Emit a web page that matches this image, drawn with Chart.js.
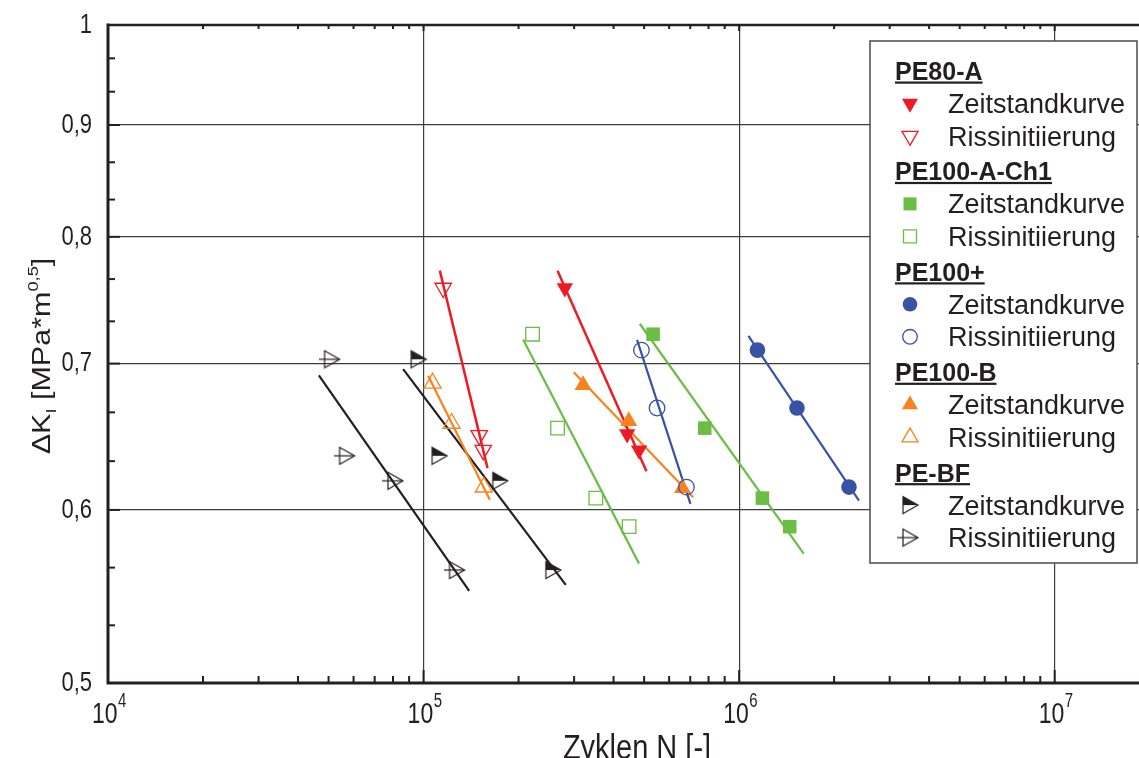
<!DOCTYPE html>
<html><head><meta charset="utf-8">
<script src="https://cdn.jsdelivr.net/npm/chart.js@4.4.1/dist/chart.umd.min.js"></script>
<style>html,body{margin:0;padding:0;background:#fff;}#wrap{width:1139px;height:758px;position:relative;}</style>
</head><body><div id="wrap"><canvas id="c" width="1139" height="758"></canvas></div>
<script>
// ---------------- data ----------------
const xDecadeExponents = [4, 5, 6, 7];
const yTickValues = [0.5, 0.6, 0.7, 0.8, 0.9, 1.0];
const yTickLabels = ['0,5', '0,6', '0,7', '0,8', '0,9', '1'];
const xAxisTitle = 'Zyklen N [-]';
const legendGroups = ['PE80-A', 'PE100-A-Ch1', 'PE100+', 'PE100-B', 'PE-BF'];
const legendItems = ['Zeitstandkurve', 'Rissinitiierung'];

// PE80-A
const pe80ZeitN = [280300, 441600, 481800];
const pe80ZeitK = [0.758, 0.650, 0.639];
const pe80RissN = [115400, 150100, 154500];
const pe80RissK = [0.758, 0.649, 0.639];
const pe80ZeitFitN = [265800, 508600];
const pe80ZeitFitK = [0.772, 0.625];
const pe80RissFitN = [112600, 159500];
const pe80RissFitK = [0.772, 0.627];
// PE100-A-Ch1
const ch1ZeitN = [533800, 778000, 1185000, 1446000];
const ch1ZeitK = [0.722, 0.654, 0.6075, 0.5895];
const ch1RissN = [221500, 265800, 351400, 448100];
const ch1RissK = [0.722, 0.654, 0.6075, 0.5895];
const ch1ZeitFitN = [484300, 1602000];
const ch1ZeitFitK = [0.730, 0.573];
const ch1RissFitN = [206800, 481800];
const ch1RissFitK = [0.718, 0.567];
// PE100+
const plusZeitN = [1143000, 1525000, 2229000];
const plusZeitK = [0.710, 0.668, 0.6146];
const plusRissN = [490300, 549500, 680800];
const plusRissK = [0.710, 0.668, 0.6146];
const plusZeitFitN = [1070000, 2398000];
const plusZeitFitK = [0.7207, 0.6059];
const plusRissFitN = [474900, 701000];
const plusRissFitK = [0.7177, 0.6038];
// PE100-B
const pbZeitN = [320300, 447000, 661300];
const pbZeitK = [0.6844, 0.6589, 0.6139];
const pbRissN = [106800, 122700, 155200];
const pbRissK = [0.6857, 0.6573, 0.6146];
const pbZeitFitN = [299300, 714500];
const pbZeitFitK = [0.6937, 0.6081];
const pbRissFitN = [103400, 162200];
const pbRissFitK = [0.6911, 0.6064];
// PE-BF
const bfZeitN = [96130, 112000, 174400, 256800];
const bfZeitK = [0.7032, 0.6352, 0.6187, 0.5632];
const bfRissN = [51110, 57030, 81140, 127200];
const bfRissK = [0.7032, 0.6352, 0.6187, 0.5632];
const bfZeitFitN = [86160, 282300];
const bfZeitFitK = [0.6959, 0.5544];
const bfRissFitN = [46590, 139500];
const bfRissFitK = [0.6913, 0.5509];

// ---------------- styling ----------------
const RED = '#ed1c24', GREEN = '#6abd45', BLUE = '#3953a4', ORANGE = '#f7821e', BLACK = '#231f20';
const FONT = '"Liberation Sans", Arial, sans-serif';

function pts(xs, ys) { return xs.map((v, i) => ({ x: v, y: ys[i] })); }

function bfMarker(filled) {
  const c = document.createElement('canvas');
  c.width = 26; c.height = 22;
  const g = c.getContext('2d');
  const cx = 13, cy = 11, bx = cx - 7, tx = cx + 8, h = 8.5;
  g.strokeStyle = BLACK; g.fillStyle = BLACK; g.lineWidth = 1.2;
  if (filled) {
    g.beginPath(); g.moveTo(bx, cy - h); g.lineTo(tx, cy); g.lineTo(bx, cy); g.closePath(); g.fill();
  } else {
    g.beginPath(); g.moveTo(bx - 6, cy); g.lineTo(tx, cy); g.stroke();
  }
  g.beginPath(); g.moveTo(bx, cy - h); g.lineTo(tx, cy); g.lineTo(bx, cy + h); g.closePath(); g.stroke();
  return c;
}
const bfZeitImg = bfMarker(true);
const bfRissImg = bfMarker(false);

function pointSet(xs, ys, color, style, filled, radius, rotation) {
  return {
    type: 'scatter', data: pts(xs, ys), order: 1,
    pointStyle: style, pointRadius: radius, pointRotation: rotation || 0,
    pointBackgroundColor: filled ? color : 'rgba(0,0,0,0)',
    pointBorderColor: color, pointBorderWidth: filled ? 0 : 1.3,
    showLine: false
  };
}
function fitSet(xs, ys, color, w) {
  return {
    type: 'scatter', data: pts(xs, ys), order: 2, showLine: true,
    borderColor: color, borderWidth: w || 2.2, pointRadius: 0, fill: false
  };
}

const datasets = [
  pointSet(pe80ZeitN, pe80ZeitK, RED, 'triangle', true, 9.5, 180),
  pointSet(pe80RissN, pe80RissK, RED, 'triangle', false, 9.5, 180),
  pointSet(ch1ZeitN, ch1ZeitK, GREEN, 'rect', true, 9.6),
  pointSet(ch1RissN, ch1RissK, GREEN, 'rect', false, 9.6),
  pointSet(plusZeitN, plusZeitK, BLUE, 'circle', true, 7.8),
  pointSet(plusRissN, plusRissK, BLUE, 'circle', false, 7.8),
  pointSet(pbZeitN, pbZeitK, ORANGE, 'triangle', true, 9.8),
  pointSet(pbRissN, pbRissK, ORANGE, 'triangle', false, 9.8),
  pointSet(bfZeitN, bfZeitK, BLACK, bfZeitImg, true, 10),
  pointSet(bfRissN, bfRissK, BLACK, bfRissImg, false, 10),
  fitSet(pe80ZeitFitN, pe80ZeitFitK, RED, 2.5),
  fitSet(pe80RissFitN, pe80RissFitK, RED, 2.5),
  fitSet(ch1ZeitFitN, ch1ZeitFitK, GREEN),
  fitSet(ch1RissFitN, ch1RissFitK, GREEN),
  fitSet(plusZeitFitN, plusZeitFitK, BLUE),
  fitSet(plusRissFitN, plusRissFitK, BLUE),
  fitSet(pbZeitFitN, pbZeitFitK, ORANGE),
  fitSet(pbRissFitN, pbRissFitK, ORANGE),
  fitSet(bfZeitFitN, bfZeitFitK, BLACK),
  fitSet(bfRissFitN, bfRissFitK, BLACK)
];

const GRID = '#3c3c3c';

function drawMarker(ctx, kind, color, filled, x, y) {
  ctx.save();
  ctx.fillStyle = color; ctx.strokeStyle = color; ctx.lineWidth = 1.3;
  ctx.beginPath();
  if (kind === 'down' || kind === 'up') {
    const r = 9.3, s = kind === 'down' ? -1 : 1;
    ctx.moveTo(x, y - s * r);
    ctx.lineTo(x + r * 0.866, y + s * r / 2);
    ctx.lineTo(x - r * 0.866, y + s * r / 2);
    ctx.closePath();
  } else if (kind === 'rect') {
    const a = 6.5; ctx.rect(x - a, y - a, 2 * a, 2 * a);
  } else if (kind === 'circle') {
    ctx.arc(x, y, 7.3, 0, Math.PI * 2);
  } else if (kind === 'img') {
    const im = filled ? bfZeitImg : bfRissImg;
    ctx.drawImage(im, x - im.width / 2, y - im.height / 2);
    ctx.restore(); return;
  }
  if (filled) ctx.fill(); else ctx.stroke();
  ctx.restore();
}

const legendMarkers = [
  ['down', RED], ['rect', GREEN], ['circle', BLUE], ['up', ORANGE], ['img', BLACK]
];

// draw text stretched vertically (the reference figure is slightly stretched)
function stretchedText(ctx, txt, x, y, sy) {
  ctx.save(); ctx.translate(x, y); ctx.scale(1, sy); ctx.fillText(txt, 0, 0); ctx.restore();
}

const framePlugin = {
  id: 'framePlugin',
  afterDatasetsDraw(chart) {
    const { ctx, chartArea: a, scales: { x, y } } = chart;
    ctx.save();
    ctx.strokeStyle = BLACK;
    ctx.lineWidth = 2;
    xDecadeExponents.forEach(e => {
      for (let m = 1; m <= 9; m++) {
        const v = m * Math.pow(10, e);
        if (v > x.max) break;
        const px = x.getPixelForValue(v);
        const L = m === 1 ? 13 : 7;
        ctx.beginPath(); ctx.moveTo(px, a.bottom); ctx.lineTo(px, a.bottom - L); ctx.stroke();
        ctx.beginPath(); ctx.moveTo(px, a.top); ctx.lineTo(px, a.top + (m === 1 ? 6 : 4)); ctx.stroke();
      }
    });
    for (let i = 0; i < yTickValues.length; i++) {
      const py = y.getPixelForValue(yTickValues[i]);
      ctx.beginPath(); ctx.moveTo(a.left, py); ctx.lineTo(a.left + 12, py); ctx.stroke();
      if (i < yTickValues.length - 1) {
        const l0 = Math.log10(yTickValues[i]), l1 = Math.log10(yTickValues[i + 1]);
        for (let k = 1; k <= 2; k++) {
          const pm = y.getPixelForValue(Math.pow(10, l0 + (l1 - l0) * k / 3));
          ctx.beginPath(); ctx.moveTo(a.left, pm); ctx.lineTo(a.left + 7, pm); ctx.stroke();
        }
      }
    }
    ctx.lineWidth = 3;
    ctx.beginPath(); ctx.moveTo(a.left, a.top - 1.5); ctx.lineTo(a.left, a.bottom); ctx.lineTo(a.right, a.bottom); ctx.stroke();
    ctx.lineWidth = 2.6;
    ctx.beginPath(); ctx.moveTo(a.left, a.top); ctx.lineTo(a.right, a.top); ctx.stroke();

    ctx.fillStyle = BLACK;
    // y tick labels
    ctx.font = '22px ' + FONT; ctx.textAlign = 'right'; ctx.textBaseline = 'middle';
    yTickValues.forEach((v, i) => {
      stretchedText(ctx, yTickLabels[i], 92, y.getPixelForValue(v), 1.28);
    });
    // x tick labels 10^n
    ctx.textBaseline = 'alphabetic';
    xDecadeExponents.forEach(e => {
      const px = x.getPixelForValue(Math.pow(10, e));
      ctx.font = '23px ' + FONT;
      const w1 = ctx.measureText('10').width;
      ctx.font = '15px ' + FONT;
      const w2 = ctx.measureText(String(e)).width;
      const x0 = px - (w1 + w2) / 2 + 1;
      ctx.font = '23px ' + FONT; ctx.textAlign = 'left';
      stretchedText(ctx, '10', x0, 723, 1.3);
      ctx.font = '15px ' + FONT;
      stretchedText(ctx, String(e), x0 + w1 + 0.5, 707, 1.3);
    });
    // x title
    ctx.font = '29px ' + FONT; ctx.textAlign = 'center';
    stretchedText(ctx, xAxisTitle, 637, 759, 1.2);

    // y title
    ctx.save();
    ctx.translate(50, 356);
    ctx.rotate(-Math.PI / 2);
    ctx.scale(1.22, 1);
    const parts = [['ΔK', 25, 0], ['I', 15, 6], [' [MPa*m', 25, 0], ['0,5', 15, -12], [']', 25, 0]];
    let tot = 0;
    parts.forEach(p => { ctx.font = p[1] + 'px ' + FONT; tot += ctx.measureText(p[0]).width; });
    let cx = -tot / 2;
    ctx.textAlign = 'left';
    parts.forEach(p => { ctx.font = p[1] + 'px ' + FONT; ctx.fillText(p[0], cx, p[2]); cx += ctx.measureText(p[0]).width; });
    ctx.restore();

    // legend
    const L = { x0: 870, y0: 41, x1: 1137, y1: 563 };
    ctx.fillStyle = '#fff';
    ctx.fillRect(L.x0, L.y0, L.x1 - L.x0, L.y1 - L.y0);
    ctx.strokeStyle = '#4a4a4a'; ctx.lineWidth = 1.5;
    ctx.strokeRect(L.x0, L.y0, L.x1 - L.x0, L.y1 - L.y0);
    ctx.textAlign = 'left'; ctx.textBaseline = 'alphabetic';
    legendGroups.forEach((g, gi) => {
      const hy = 71 + 100.4 * gi;
      ctx.font = 'bold 25px ' + FONT;
      ctx.fillStyle = BLACK;
      ctx.fillText(g, 895, hy + 9);
      const w = ctx.measureText(g).width;
      ctx.fillRect(895, hy + 10.5, w, 2.2);
      legendItems.forEach((it, ii) => {
        const iy = hy + 32.5 * (ii + 1);
        ctx.font = '27px ' + FONT;
        ctx.fillStyle = BLACK;
        ctx.fillText(it, 948, iy + 9.5);
        drawMarker(ctx, legendMarkers[gi][0], legendMarkers[gi][1], ii === 0, 910, iy);
      });
    });
    ctx.restore();
  }
};

new Chart(document.getElementById('c'), {
  type: 'scatter',
  data: { datasets },
  options: {
    responsive: false, animation: false, devicePixelRatio: 1,
    layout: { autoPadding: false, padding: { top: 25, right: 0, left: 0, bottom: 0 } },
    plugins: { legend: { display: false }, tooltip: { enabled: false } },
    scales: {
      x: {
        type: 'logarithmic', min: 1e4, max: 1.85e7, position: 'bottom',
        afterBuildTicks: s => { s.ticks = xDecadeExponents.map(e => ({ value: Math.pow(10, e) })); },
        afterFit: s => { s.height = 75; },
        ticks: { display: false },
        border: { display: false },
        grid: { drawTicks: false, lineWidth: 1.2,
          color: c => (c.tick && c.tick.value > 1e4) ? GRID : 'rgba(0,0,0,0)' }
      },
      y: {
        type: 'logarithmic', min: 0.5, max: 1.0,
        afterBuildTicks: s => { s.ticks = yTickValues.map(v => ({ value: v })); },
        afterFit: s => { s.width = 108; },
        ticks: { display: false },
        border: { display: false },
        grid: { drawTicks: false, lineWidth: 1.2,
          color: c => (c.tick && c.tick.value > 0.5 && c.tick.value < 1) ? GRID : 'rgba(0,0,0,0)' }
      }
    }
  },
  plugins: [framePlugin]
});
</script></body></html>
